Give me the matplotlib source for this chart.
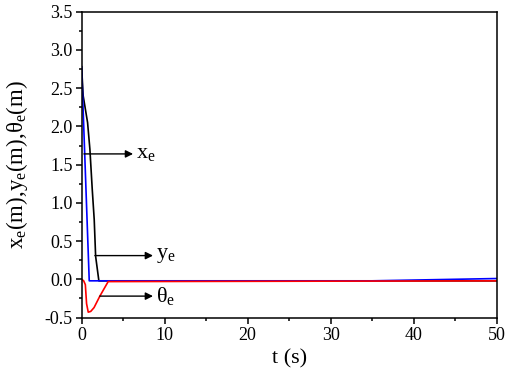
import matplotlib
matplotlib.use("Agg")
import matplotlib.pyplot as plt

plt.rcParams['font.family'] = ['Liberation Serif', 'DejaVu Serif']
plt.rcParams['mathtext.fontset'] = 'custom'
plt.rcParams['mathtext.rm'] = 'Liberation Serif'
plt.rcParams['mathtext.it'] = 'Liberation Serif:italic'

# curves
t_x = [0, 0.19, 0.72, 1.0, 1.28, 1.52, 1.69, 2.08, 50]
x_e = [2.78, 2.40, 2.05, 1.70, 1.18, 0.78, 0.30, -0.02, -0.02]

t_y = [0, 0.92, 35, 50]
y_e = [2.78, -0.02, -0.02, 0.01]

t_th = [0, 0.25, 0.45, 0.6, 0.8, 1.1, 1.5, 2.2, 3.2, 50]
th_e = [0.0, -0.02, -0.07, -0.32, -0.43, -0.42, -0.37, -0.22, -0.03, -0.02]

fig = plt.figure(figsize=(5.1, 3.78), dpi=100)
ax = fig.add_axes([0.160, 0.160, 0.814, 0.809])

ax.plot(t_x, x_e, color='black', lw=1.2)
ax.plot(t_y, y_e, color='blue', lw=1.2)
ax.plot(t_th, th_e, color='red', lw=1.2)

arrow = dict(arrowstyle='-|>', color='black', lw=1.0, mutation_scale=11,
             shrinkA=0, shrinkB=0)
ax.annotate('', xy=(6.2, 1.64), xytext=(0.28, 1.64), arrowprops=arrow)
ax.text(6.5, 1.64, r'$\mathrm{x_e}$', fontsize=16, va='center')
ax.annotate('', xy=(8.6, 0.31), xytext=(1.6, 0.31), arrowprops=arrow)
ax.text(9.0, 0.31, r'$\mathrm{y_e}$', fontsize=16, va='center')
ax.annotate('', xy=(8.6, -0.22), xytext=(2.2, -0.22), arrowprops=arrow)
ax.text(9.0, -0.22, r'$\mathrm{θ_e}$', fontsize=16, va='center')

ax.set_xlim(0, 50)
ax.set_ylim(-0.5, 3.5)
ax.set_xticks([0, 10, 20, 30, 40, 50])
ax.set_xticks([5, 15, 25, 35, 45], minor=True)
ax.set_yticks([-0.5, 0.0, 0.5, 1.0, 1.5, 2.0, 2.5, 3.0, 3.5])
ax.set_yticks([-0.25, 0.25, 0.75, 1.25, 1.75, 2.25, 2.75, 3.25], minor=True)
ax.set_yticklabels(['-0.5', '0.0', '0.5', '1.0', '1.5', '2.0', '2.5', '3.0', '3.5'])
ax.tick_params(which='major', direction='out', length=4, width=1.1, labelsize=13, pad=2.5)
ax.tick_params(which='minor', direction='out', length=2.5, width=1.1)
for s in ax.spines.values():
    s.set_linewidth(1.1)

ax.set_xlabel('t (s)', fontsize=16)
ax.set_ylabel(r'$\mathrm{x_e(m){,}y_e(m){,}θ_e(m)}$', fontsize=16.5)
ax.xaxis.set_label_coords(0.5, -0.105)
ax.yaxis.set_label_coords(-0.125, 0.5)

plt.savefig('out.png', dpi=100)
